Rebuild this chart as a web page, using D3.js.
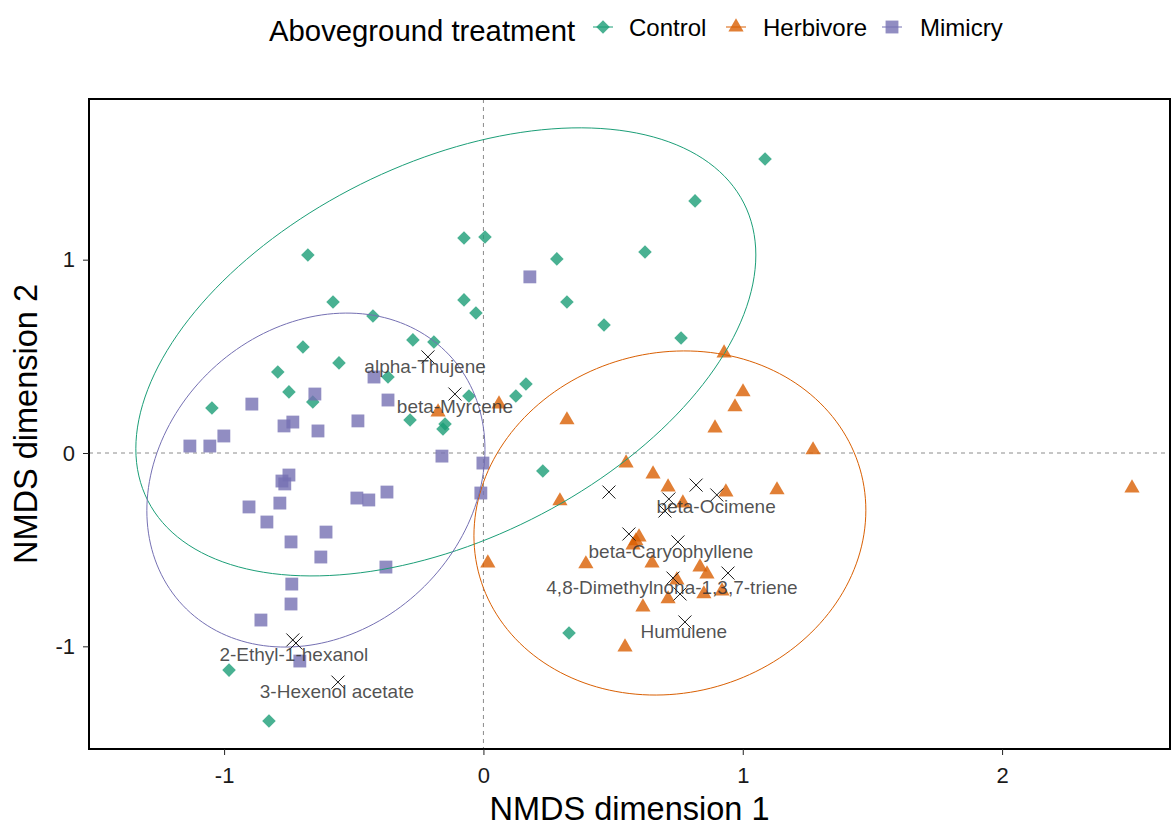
<!DOCTYPE html>
<html>
<head>
<meta charset="utf-8">
<script src="https://cdn.jsdelivr.net/npm/d3@7"></script>
<style>
  html, body { margin: 0; padding: 0; background: #fff; }
  svg { display: block; font-family: "Liberation Sans", Arial, sans-serif; }
</style>
</head>
<body>
<svg id="chart" width="1171" height="828"></svg>
<script>
// ---- NMDS site scores, one array pair per aboveground treatment ----
const controlX = [-0.677, -0.075, 0.006, 0.283, 0.623, 0.816, 1.086, -0.580, -0.426, -0.075, -0.029,
  0.322, 0.465, 0.762, -0.272, -0.191, -0.696, -0.557, -0.793, -0.368, -0.750, -0.658, -1.047, 0.164,
  0.125, -0.056, -0.283, -0.148, -0.156, 0.229, 0.330, -0.981, -0.827];
const controlY = [1.024, 1.112, 1.117, 1.004, 1.040, 1.304, 1.521, 0.781, 0.709, 0.792, 0.724,
  0.781, 0.662, 0.595, 0.585, 0.574, 0.548, 0.466, 0.419, 0.393, 0.316, 0.264, 0.233, 0.357,
  0.295, 0.295, 0.171, 0.150, 0.124, -0.093, -0.931, -1.123, -1.386];

const herbivoreX = [-0.175, 0.060, 0.928, 1.001, 0.970, 0.322, 0.893, 1.271, 0.550, 0.654, 0.712,
  0.935, 1.132, 0.295, 0.769, 2.501, 0.600, 0.588, 0.577, 0.017, 0.395, 0.650, 0.835, 0.862,
  0.746, 0.850, 0.920, 0.712, 0.615, 0.546];
const herbivoreY = [0.212, 0.253, 0.517, 0.316, 0.238, 0.171, 0.129, 0.016, -0.052, -0.109, -0.176,
  -0.202, -0.191, -0.248, -0.259, -0.181, -0.435, -0.455, -0.476, -0.569, -0.574, -0.569, -0.590, -0.626,
  -0.657, -0.729, -0.714, -0.755, -0.797, -1.004];

const mimicryX = [0.179, -0.422, -0.650, -0.368, -0.893, -0.484, -0.735, -0.769, -0.638, -1.001, -1.132,
  -1.055, -0.160, -0.002, -0.750, -0.777, -0.766, -0.010, -0.372, -0.488, -0.442, -0.785, -0.904, -0.835,
  -0.607, -0.742, -0.627, -0.376, -0.739, -0.742, -0.858, -0.708];
const mimicryY = [0.911, 0.393, 0.305, 0.274, 0.253, 0.166, 0.160, 0.140, 0.114, 0.088, 0.036,
  0.036, -0.016, -0.052, -0.114, -0.145, -0.160, -0.207, -0.202, -0.233, -0.243, -0.259, -0.279, -0.357,
  -0.409, -0.460, -0.538, -0.590, -0.678, -0.781, -0.864, -1.076];

// ---- 95% ellipses: centre and spread (sxx, sxy, syy) per treatment ----
const ellipseCx  = [-0.145, 0.719, -0.646];
const ellipseCy  = [0.523, -0.362, -0.140];
const ellipseSxx = [1.429, 0.571, 0.425];
const ellipseSxy = [0.599, 0.050, 0.103];
const ellipseSyy = [1.343, 0.792, 0.746];

// ---- compound (species) scores ----
const compoundX = [-0.214, -0.110, -0.735, -0.723, -0.561, 0.484, 0.820, 0.900, 0.715, 0.700,
  0.561, 0.750, 0.731, 0.943, 0.758, 0.777];
const compoundY = [0.497, 0.305, -0.967, -0.983, -1.185, -0.202, -0.166, -0.217, -0.238, -0.300,
  -0.419, -0.460, -0.647, -0.621, -0.729, -0.874];

// ---- compound labels ----
const labelNames = ["alpha-Thujene", "beta-Myrcene", "2-Ethyl-1-hexanol", "3-Hexenol acetate",
  "beta-Ocimene", "beta-Caryophyllene", "4,8-Dimethylnona-1,3,7-triene", "Humulene"];
const labelX = [-0.225, -0.110, -0.731, -0.565, 0.897, 0.723, 0.727, 0.773];
const labelY = [0.445, 0.243, -1.040, -1.236, -0.279, -0.512, -0.698, -0.921];

// ---- groups, axes, titles ----
const treatments = ["Control", "Herbivore", "Mimicry"];
const treatmentColors = ["#1b9e77", "#d95f02", "#7570b3"];
const xTickValues = [-1, 0, 1, 2];
const xTickLabels = ["-1", "0", "1", "2"];
const yTickValues = [-1, 0, 1];
const yTickLabels = ["-1", "0", "1"];
const legendTitle = "Aboveground treatment";
const xTitle = "NMDS dimension 1";
const yTitle = "NMDS dimension 2";

// ---- layout ----
const panel = { left: 89, right: 1170, top: 99, bottom: 749 };

const x = d3.scaleLinear().domain([-1.521, 2.6475]).range([panel.left, panel.right]);
const y = d3.scaleLinear().domain([-1.531, 1.831]).range([panel.bottom, panel.top]);

const svg = d3.select("#chart");

svg.append("defs").append("clipPath").attr("id", "panel-clip")
  .append("rect")
  .attr("x", panel.left).attr("y", panel.top)
  .attr("width", panel.right - panel.left).attr("height", panel.bottom - panel.top);

const plot = svg.append("g").attr("clip-path", "url(#panel-clip)");

// reference lines through the origin
plot.append("line")
  .attr("x1", x(0)).attr("x2", x(0)).attr("y1", panel.top).attr("y2", panel.bottom)
  .attr("stroke", "#8c8c8c").attr("stroke-width", 1).attr("stroke-dasharray", "4,4");
plot.append("line")
  .attr("x1", panel.left).attr("x2", panel.right).attr("y1", y(0)).attr("y2", y(0))
  .attr("stroke", "#8c8c8c").attr("stroke-width", 1).attr("stroke-dasharray", "4,4");

// symbol generators per treatment
const symDiamond = d3.symbol().type(d3.symbolSquare).size(92);
const symTriangle = d3.symbol().type(d3.symbolTriangle).size(100);
const symSquare = d3.symbol().type(d3.symbolSquare).size(165);
const symbolPath = [symDiamond(), symTriangle(), symSquare()];
const symbolRotate = [45, 0, 0];

const groups = [
  { xs: controlX, ys: controlY },
  { xs: herbivoreX, ys: herbivoreY },
  { xs: mimicryX, ys: mimicryY }
];

// points
groups.forEach((g, gi) => {
  const pts = g.xs.map((v, i) => ({ x: v, y: g.ys[i] }));
  plot.append("g").selectAll("path").data(pts).join("path")
    .attr("d", symbolPath[gi])
    .attr("transform", d => `translate(${x(d.x)},${y(d.y)}) rotate(${symbolRotate[gi]})`)
    .attr("fill", treatmentColors[gi])
    .attr("fill-opacity", 0.8);
});

// ellipses
const line = d3.line().x(d => x(d[0])).y(d => y(d[1]));
treatments.forEach((t, gi) => {
  const l11 = Math.sqrt(ellipseSxx[gi]);
  const l21 = ellipseSxy[gi] / l11;
  const l22 = Math.sqrt(ellipseSyy[gi] - l21 * l21);
  const pts = d3.range(0, 361, 2).map(a => {
    const t0 = a * Math.PI / 180;
    return [ellipseCx[gi] + l11 * Math.cos(t0),
            ellipseCy[gi] + l21 * Math.cos(t0) + l22 * Math.sin(t0)];
  });
  plot.append("path").datum(pts)
    .attr("d", line)
    .attr("fill", "none")
    .attr("stroke", treatmentColors[gi])
    .attr("stroke-width", 1);
});

// compound crosses
const cross = 6.5;
const compounds = compoundX.map((v, i) => ({ x: v, y: compoundY[i] }));
const cg = plot.append("g").attr("stroke", "#1a1a1a").attr("stroke-width", 1);
cg.selectAll("path").data(compounds).join("path")
  .attr("d", d => {
    const cx = x(d.x), cy = y(d.y);
    return `M${cx - cross},${cy - cross}L${cx + cross},${cy + cross}M${cx - cross},${cy + cross}L${cx + cross},${cy - cross}`;
  });

// compound labels
plot.append("g").selectAll("text").data(labelNames).join("text")
  .attr("x", (d, i) => x(labelX[i]))
  .attr("y", (d, i) => y(labelY[i]))
  .attr("text-anchor", "middle")
  .attr("dominant-baseline", "central")
  .attr("font-size", 19)
  .attr("fill", "#333333")
  .attr("fill-opacity", 0.85)
  .text(d => d);

// panel border
svg.append("rect")
  .attr("x", panel.left).attr("y", panel.top)
  .attr("width", panel.right - panel.left).attr("height", panel.bottom - panel.top)
  .attr("fill", "none").attr("stroke", "#000").attr("stroke-width", 2);

// axes
const xAxis = svg.append("g").attr("transform", `translate(0,${panel.bottom})`)
  .call(d3.axisBottom(x).tickValues(xTickValues).tickSize(6).tickPadding(12)
    .tickFormat((d, i) => xTickLabels[i]));
const yAxis = svg.append("g").attr("transform", `translate(${panel.left},0)`)
  .call(d3.axisLeft(y).tickValues(yTickValues).tickSize(6).tickPadding(8)
    .tickFormat((d, i) => yTickLabels[i]));
[xAxis, yAxis].forEach(a => {
  a.select(".domain").remove();
  a.selectAll(".tick line").attr("stroke", "#222").attr("stroke-width", 1);
  a.selectAll(".tick text").attr("font-size", 22).attr("fill", "#1a1a1a")
    .attr("font-family", "Liberation Sans, Arial, sans-serif");
});

// axis titles
svg.append("text")
  .attr("x", (panel.left + panel.right) / 2).attr("y", 820)
  .attr("text-anchor", "middle").attr("font-size", 32.5).attr("fill", "#000")
  .text(xTitle);
svg.append("text")
  .attr("transform", `translate(37,${(panel.top + panel.bottom) / 2}) rotate(-90)`)
  .attr("text-anchor", "middle").attr("font-size", 32.5).attr("fill", "#000")
  .text(yTitle);

// legend
const legend = svg.append("g");
legend.append("text").attr("x", 269).attr("y", 41)
  .attr("font-size", 29.3).attr("fill", "#000").text(legendTitle);
const keyX = [603, 736, 892];
const labelStart = [629, 763, 920];
treatments.forEach((t, gi) => {
  legend.append("line")
    .attr("x1", keyX[gi] - 10).attr("x2", keyX[gi] + 10)
    .attr("y1", 27).attr("y2", 27)
    .attr("stroke", treatmentColors[gi]).attr("stroke-width", 1);
  legend.append("path")
    .attr("d", symbolPath[gi])
    .attr("transform", `translate(${keyX[gi]},27) rotate(${symbolRotate[gi]})`)
    .attr("fill", treatmentColors[gi]).attr("fill-opacity", 0.8);
  legend.append("text").attr("x", labelStart[gi]).attr("y", 36)
    .attr("font-size", 24).attr("fill", "#000").text(t);
});
</script>
</body>
</html>
